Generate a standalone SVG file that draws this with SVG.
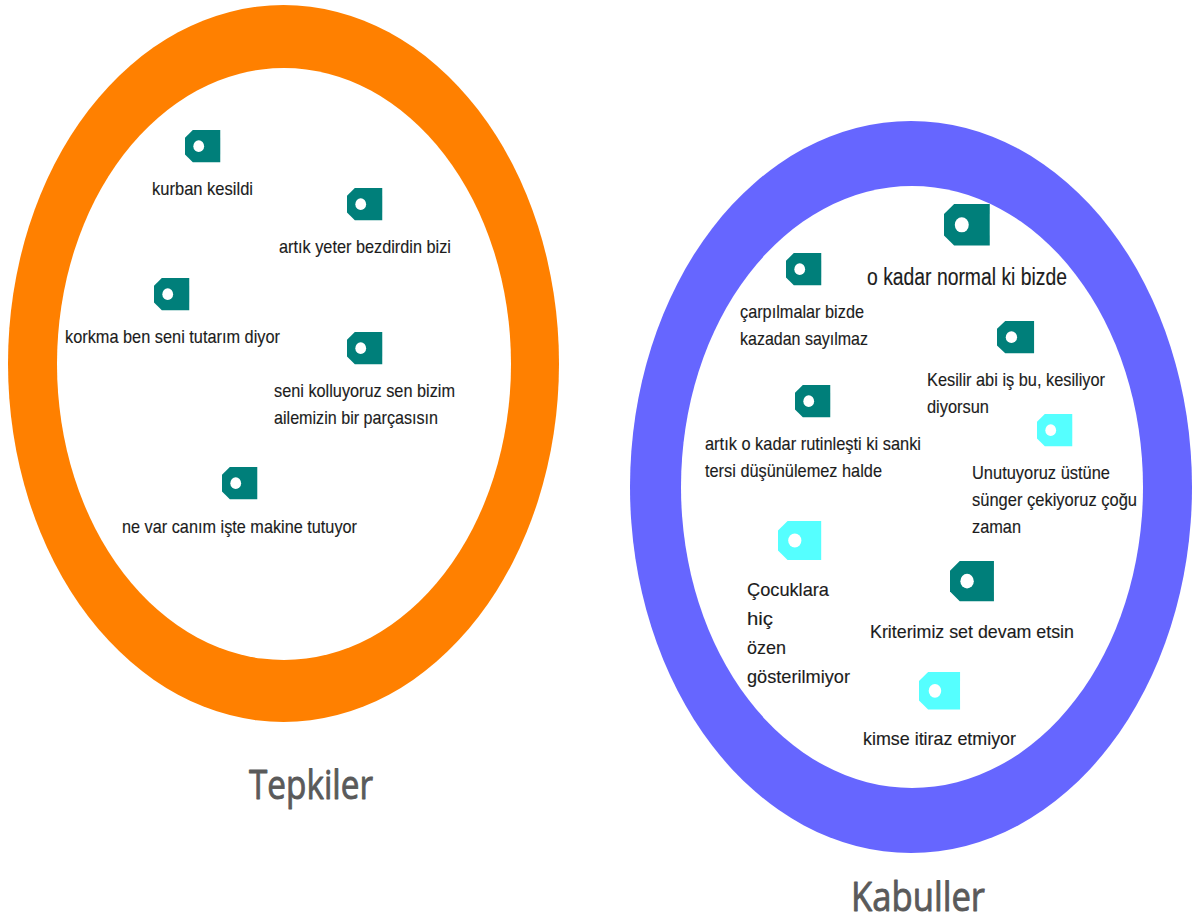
<svg xmlns="http://www.w3.org/2000/svg" width="1197" height="923" viewBox="0 0 1197 923">
<style>
.t{font-family:"Liberation Sans",Arial,sans-serif;font-size:19px;fill:#1c1c1c;stroke:#1c1c1c;stroke-width:.15px}
.b{font-size:23px}
.h{font-family:"Open Sans","DejaVu Sans",sans-serif;font-size:40px;fill:#5a5a5a;stroke:#5a5a5a;stroke-width:.9px;stroke-linejoin:round;text-anchor:middle}
.d{fill:#007f7a}.c{fill:#55ffff}
.i{fill:#fff}
</style>
<defs>
<g id="tag"><path d="M8 0H36V33H8L0 25V8Z"/><ellipse cx="14" cy="16.500" rx="5.500" ry="6" fill="#fff"/></g>
</defs>
<rect width="1197" height="923" fill="#fff"/>
<g id="tepkiler">
<ellipse cx="283.500" cy="363.500" rx="275.500" ry="358.500" fill="#ff8000"/>
<ellipse class="i" cx="284" cy="364" rx="227" ry="296"/>
<text class="h" x="311" y="799" textLength="124" lengthAdjust="spacingAndGlyphs">Tepkiler</text>
</g>
<g id="kabuller">
<ellipse cx="911" cy="487" rx="281" ry="366" fill="#6666ff"/>
<ellipse class="i" cx="912" cy="487" rx="231" ry="301"/>
<text class="h" x="918" y="911" textLength="134" lengthAdjust="spacingAndGlyphs">Kabuller</text>
</g>
<g id="connectors"></g>
<g id="n1"><use href="#tag" class="d" transform="translate(185 130) scale(.98 .98)"/><text class="t" x="152" y="195" textLength="101" lengthAdjust="spacingAndGlyphs">kurban kesildi</text></g>
<g id="n2"><use href="#tag" class="d" transform="translate(347 188) scale(.98 .98)"/><text class="t" x="279" y="253" textLength="172" lengthAdjust="spacingAndGlyphs">artık yeter bezdirdin bizi</text></g>
<g id="n3"><use href="#tag" class="d" transform="translate(154 278) scale(.98 .98)"/><text class="t" x="65" y="343" textLength="215" lengthAdjust="spacingAndGlyphs">korkma ben seni tutarım diyor</text></g>
<g id="n4"><use href="#tag" class="d" transform="translate(347 332) scale(.98 .98)"/><text class="t" x="274" y="397" textLength="181" lengthAdjust="spacingAndGlyphs">seni kolluyoruz sen bizim</text><text class="t" x="274" y="424" textLength="164" lengthAdjust="spacingAndGlyphs">ailemizin bir parçasısın</text></g>
<g id="n5"><use href="#tag" class="d" transform="translate(222 467) scale(.98 .98)"/><text class="t" x="122" y="533" textLength="235" lengthAdjust="spacingAndGlyphs">ne var canım işte makine tutuyor</text></g>
<g id="n6"><use href="#tag" class="d" transform="translate(944 204) scale(1.27 1.26)"/><text class="t b" x="867" y="285" textLength="200" lengthAdjust="spacingAndGlyphs">o kadar normal ki bizde</text></g>
<g id="n7"><use href="#tag" class="d" transform="translate(786 253) scale(.98 .98)"/><text class="t" x="740" y="318" textLength="124" lengthAdjust="spacingAndGlyphs">çarpılmalar bizde</text><text class="t" x="740" y="345" textLength="128" lengthAdjust="spacingAndGlyphs">kazadan sayılmaz</text></g>
<g id="n8"><use href="#tag" class="d" transform="translate(997 321) scale(1.03 .98)"/><text class="t" x="927" y="386" textLength="178" lengthAdjust="spacingAndGlyphs">Kesilir abi iş bu, kesiliyor</text><text class="t" x="927" y="413" textLength="62" lengthAdjust="spacingAndGlyphs">diyorsun</text></g>
<g id="n9"><use href="#tag" class="d" transform="translate(795 385) scale(.98 .98)"/><text class="t" x="705" y="450" textLength="216" lengthAdjust="spacingAndGlyphs">artık o kadar rutinleşti ki sanki</text><text class="t" x="705" y="477" textLength="177" lengthAdjust="spacingAndGlyphs">tersi düşünülemez halde</text></g>
<g id="n10"><use href="#tag" class="c" transform="translate(1037 414) scale(.98 .98)"/><text class="t" x="972" y="479" textLength="138" lengthAdjust="spacingAndGlyphs">Unutuyoruz üstüne</text><text class="t" x="972" y="506" textLength="165" lengthAdjust="spacingAndGlyphs">sünger çekiyoruz çoğu</text><text class="t" x="972" y="533" textLength="49" lengthAdjust="spacingAndGlyphs">zaman</text></g>
<g id="n11"><use href="#tag" class="c" transform="translate(778 521) scale(1.2 1.18)"/><text class="t" x="747" y="596" textLength="82" lengthAdjust="spacingAndGlyphs">Çocuklara</text><text class="t" x="747" y="625" textLength="26" lengthAdjust="spacingAndGlyphs">hiç</text><text class="t" x="747" y="654" textLength="39" lengthAdjust="spacingAndGlyphs">özen</text><text class="t" x="747" y="683" textLength="103" lengthAdjust="spacingAndGlyphs">gösterilmiyor</text></g>
<g id="n12"><use href="#tag" class="d" transform="translate(950 561) scale(1.22 1.22)"/><text class="t" x="870" y="638" textLength="204" lengthAdjust="spacingAndGlyphs">Kriterimiz set devam etsin</text></g>
<g id="n13"><use href="#tag" class="c" transform="translate(919 672) scale(1.14 1.14)"/><text class="t" x="863" y="745" textLength="153" lengthAdjust="spacingAndGlyphs">kimse itiraz etmiyor</text></g>
</svg>
